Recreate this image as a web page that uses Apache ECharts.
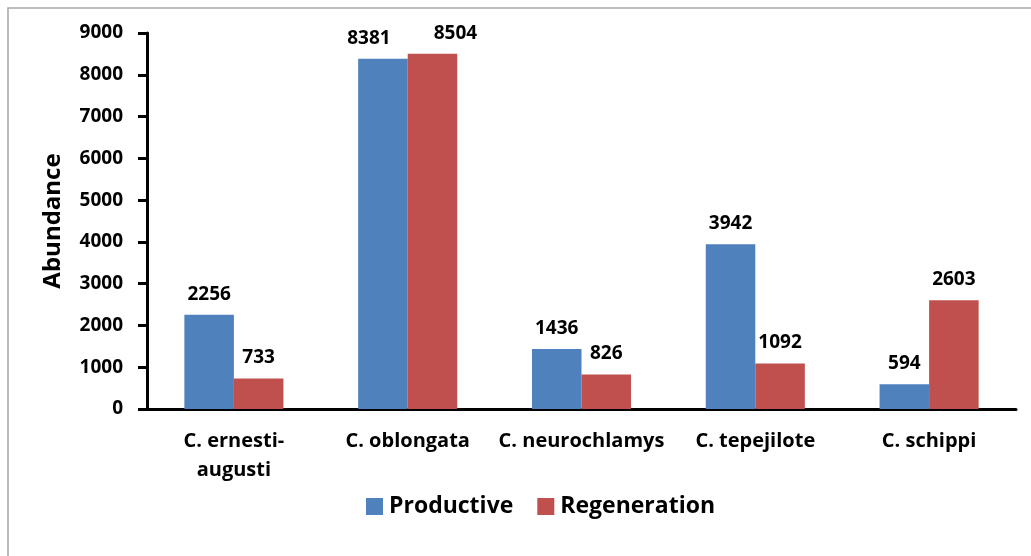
<!DOCTYPE html>
<html>
<head>
<meta charset="utf-8">
<script src="https://cdn.jsdelivr.net/npm/echarts@6/dist/echarts.min.js"></script>
<style>html,body{margin:0;padding:0;background:#fff}#c{width:1031px;height:556px}</style>
</head>
<body>
<div id="c"></div>
<script>
var categories = ['C. ernesti-\naugusti', 'C. oblongata', 'C. neurochlamys', 'C. tepejilote', 'C. schippi'];
var productive = [2256, 8381, 1436, 3942, 594];
var regeneration = [733, 8504, 826, 1092, 2603];
var seriesNames = ['Productive', 'Regeneration'];
var yTicks = [0, 1000, 2000, 3000, 4000, 5000, 6000, 7000, 8000, 9000];

var FONT = 'Open Sans';
var chart = echarts.init(document.getElementById('c'), null, {renderer: 'canvas'});
var labelStyle = {show: true, position: 'top', distance: 11, fontFamily: FONT, fontWeight: 'bold', fontSize: 19, color: '#000'};
// label nudges (as in the original, labels of the tall pair are pushed apart)
var nudgeP = {1: [-14, 0]};
var nudgeR = {1: [23, 0]};
function build(values, nudge) {
  return values.map(function (v, i) {
    return nudge[i] ? {value: v, label: {offset: nudge[i]}} : v;
  });
}
chart.setOption({
  animation: false,
  backgroundColor: '#fff',
  graphic: [{type: 'rect', shape: {x: 8, y: 8, width: 1040, height: 560}, style: {fill: 'none', stroke: '#a6a6a6', lineWidth: 1.5}, silent: true}],
  grid: {left: 147, right: 15, top: 33, bottom: 147},
  legend: {
    data: seriesNames, bottom: 33, left: 361, itemWidth: 17, itemHeight: 17, itemGap: 24,
    icon: 'rect',
    textStyle: {fontFamily: FONT, fontWeight: 'bold', fontSize: 23, color: '#000', padding: [0, 0, 0, 1]}
  },
  xAxis: {
    type: 'category', data: categories,
    axisLine: {lineStyle: {color: '#000', width: 3}},
    axisTick: {show: false},
    axisLabel: {fontFamily: FONT, fontWeight: 'bold', fontSize: 20, color: '#000', margin: 18, lineHeight: 29, interval: 0}
  },
  yAxis: {
    type: 'value', min: 0, max: 9000, interval: 1000,
    name: 'Abundance', nameLocation: 'middle', nameGap: 82, nameRotate: 90,
    nameTextStyle: {fontFamily: FONT, fontWeight: 'bold', fontSize: 24, color: '#000'},
    axisLine: {show: true, lineStyle: {color: '#000', width: 3}},
    axisTick: {show: true, length: 9, lineStyle: {color: '#000', width: 3}},
    splitLine: {show: false},
    axisLabel: {fontFamily: FONT, fontWeight: 'bold', fontSize: 19, color: '#000', margin: 24,
      formatter: function (v) { return yTicks.indexOf(v) >= 0 ? String(v) : ''; }}
  },
  series: [
    {name: seriesNames[0], type: 'bar', data: build(productive, nudgeP), barGap: '0%', barCategoryGap: '43%',
     itemStyle: {color: '#4F81BD'}, label: labelStyle},
    {name: seriesNames[1], type: 'bar', data: build(regeneration, nudgeR), barGap: '0%', barCategoryGap: '43%',
     itemStyle: {color: '#C0504D'}, label: labelStyle}
  ]
});
</script>
</body>
</html>
